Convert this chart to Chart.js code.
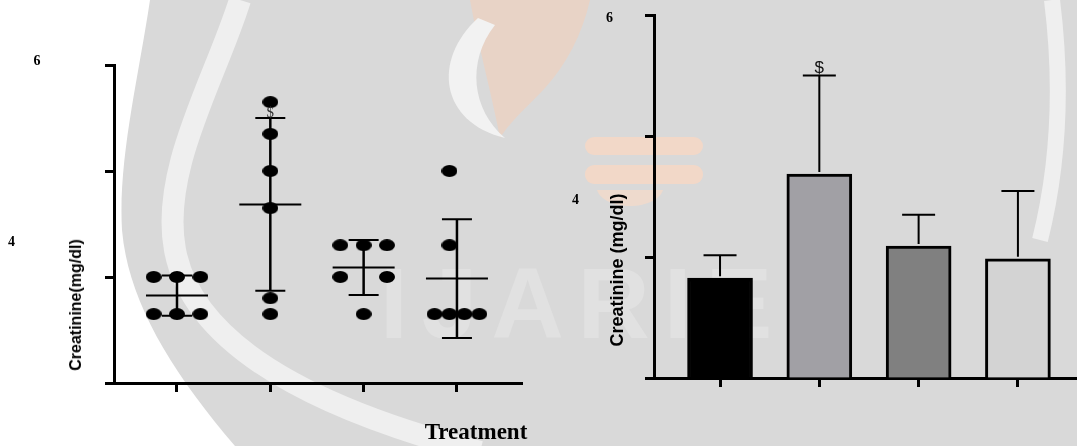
<!DOCTYPE html>
<html>
<head>
<meta charset="utf-8">
<script src="https://cdn.jsdelivr.net/npm/chart.js@4.4.1/dist/chart.umd.min.js"></script>
<style>
  html, body { margin: 0; padding: 0; }
  body { width: 1077px; height: 446px; position: relative; overflow: hidden; background: #d9d9d9; }
  #bg { position: absolute; left: 0; top: 0; }
  canvas { position: absolute; top: 0; }
  #scatterChart { left: 0; }
  #barChart { left: 540px; }
  .txt { position: absolute; white-space: nowrap; line-height: 1; transform: translate(-50%, -50%); color: #000; }
  .tick { font: bold 14px "Liberation Serif", "DejaVu Serif", serif; }
  .ytitle { font-family: "Liberation Sans", Arial, sans-serif; font-weight: bold; transform: translate(-50%, -50%) rotate(-90deg); }
  .xtitle { font: bold 23px "Liberation Serif", "DejaVu Serif", serif; }
  .mark-serif { font: 15px "Liberation Serif", serif; color: #333; }
  .mark-sans { font: 17px "Liberation Sans", Arial, sans-serif; color: #111; }
</style>
</head>
<body>
<svg id="bg" width="1077" height="446" viewBox="0 0 1077 446">
  <rect width="1077" height="446" fill="#d9d9d9"/>
  <!-- pale logo backdrop -->
  <path d="M0,0 L150,0 C138,80 118,160 122,230 C128,300 170,370 235,446 L0,446 Z" fill="#ffffff"/>
  <path d="M240,0 C215,80 160,170 175,250 C190,330 280,400 480,452" fill="none" stroke="#efefef" stroke-width="22"/>
  <path d="M1052,0 C1062,80 1060,160 1040,240" fill="none" stroke="#efefef" stroke-width="16"/>
  <path d="M470,0 L590,0 C582,35 566,65 545,88 C528,106 510,122 500,138 C492,95 478,45 470,0 Z" fill="#e8d3c6"/>
  <path d="M478,18 C432,60 440,122 505,138 C472,110 466,62 495,25 Z" fill="#f2f2f2"/>
  <rect x="585" y="137" width="118" height="18" rx="9" fill="#f2d8c8"/>
  <rect x="585" y="165" width="118" height="19" rx="9" fill="#f2d8c8"/>
  <path d="M597,190 L663,190 C660,200 645,206 630,206 C615,206 600,200 597,190 Z" fill="#eedacd"/>
  <text x="380" y="338" font-family="Liberation Sans, Arial, sans-serif" font-weight="bold" font-size="100" letter-spacing="14" fill="#e1e1e1">IJARIE</text>
</svg>

<canvas id="scatterChart" width="540" height="446"></canvas>
<canvas id="barChart" width="537" height="446"></canvas>

<div class="txt tick" style="left:37px; top:61px;" id="tickA"></div>
<div class="txt tick" style="left:11.5px; top:242px;" id="tickB"></div>
<div class="txt tick" style="left:609.5px; top:18px;" id="tickC"></div>
<div class="txt tick" style="left:575.5px; top:200px;" id="tickD"></div>
<div class="txt ytitle" style="left:76px; top:305px; font-size:16px;">Creatinine(mg/dl)</div>
<div class="txt ytitle" style="left:617px; top:270px; font-size:18px;">Creatinine (mg/dl)</div>
<div class="txt xtitle" style="left:476px; top:432px;">Treatment</div>

<script>
// Serum creatinine (mg/dl), six animals per treatment group
const groups = ['Group 1', 'Group 2', 'Group 3', 'Group 4'];
const creatinine = [
  [2.0, 2.0, 2.0, 1.3, 1.3, 1.3],
  [5.3, 4.7, 4.0, 3.3, 1.6, 1.3],
  [2.6, 2.6, 2.6, 2.0, 2.0, 1.3],
  [4.0, 2.6, 1.3, 1.3, 1.3, 1.3]
];
const groupMean = [1.65, 3.37, 2.18, 1.97];
const groupSD = [0.38, 1.63, 0.52, 1.12];
const yTicks = [0, 2, 4, 6];
const tickLabels = ['6', '4'];
const significance = ['', '$', '', ''];

// horizontal spread of tied dots inside each column (layout only)
const dotSpread = [
  [-0.25, 0, 0.25, -0.25, 0, 0.25],
  [0, 0, 0, 0, 0, 0],
  [-0.25, 0, 0.25, -0.25, 0.25, 0],
  [-0.08, -0.08, -0.24, -0.08, 0.08, 0.24]
];
const barFill = ['#000000', '#a1a0a5', '#808080', '#d3d3d3'];

document.getElementById('tickA').textContent = tickLabels[0];
document.getElementById('tickB').textContent = tickLabels[1];
document.getElementById('tickC').textContent = tickLabels[0];
document.getElementById('tickD').textContent = tickLabels[1];

function ellipseDot(w, h) {
  const c = document.createElement('canvas');
  c.width = w; c.height = h;
  const g = c.getContext('2d');
  g.fillStyle = '#000';
  g.beginPath();
  g.ellipse(w / 2, h / 2, w / 2, h / 2, 0, 0, Math.PI * 2);
  g.fill();
  return c;
}

function axisStyle(extra) {
  return Object.assign({
    type: 'linear',
    offset: false,
    ticks: { display: false },
    grid: { display: true, offset: false, drawOnChartArea: false, drawTicks: true, tickLength: 9, tickWidth: 3, tickColor: '#000' },
    border: { display: true, color: '#000', width: 3 }
  }, extra);
}

// places the significance marks above the SD cap of each group
function markPlugin(cls, lift, left) {
  return {
    id: 'marks' + cls,
    afterRender(chart) {
      const xs = chart.scales.x, ys = chart.scales.y;
      significance.forEach((m, i) => {
        if (!m) return;
        const id = 'mk-' + chart.canvas.id + i;
        let el = document.getElementById(id);
        if (!el) {
          el = document.createElement('div');
          el.id = id;
          el.className = 'txt ' + cls;
          el.textContent = m;
          document.body.appendChild(el);
        }
        el.style.left = (left + xs.getPixelForValue(i)) + 'px';
        el.style.top = (ys.getPixelForValue(groupMean[i] + groupSD[i]) - lift) + 'px';
      });
    }
  };
}

// mean line with +/- SD whiskers for the dot plot
const meanSdPlugin = {
  id: 'meanSd',
  afterDatasetsDraw(chart) {
    const { ctx } = chart;
    const xs = chart.scales.x, ys = chart.scales.y;
    ctx.save();
    ctx.strokeStyle = '#000';
    groups.forEach((g, i) => {
      const cx = xs.getPixelForValue(i);
      const ym = ys.getPixelForValue(groupMean[i]);
      const yt = ys.getPixelForValue(groupMean[i] + groupSD[i]);
      const yb = ys.getPixelForValue(groupMean[i] - groupSD[i]);
      ctx.lineWidth = 2;
      ctx.beginPath();
      ctx.moveTo(cx - 31, ym); ctx.lineTo(cx + 31, ym);
      ctx.moveTo(cx - 15, yt); ctx.lineTo(cx + 15, yt);
      ctx.moveTo(cx - 15, yb); ctx.lineTo(cx + 15, yb);
      ctx.stroke();
      ctx.lineWidth = 2.5;
      ctx.beginPath();
      ctx.moveTo(cx, yt); ctx.lineTo(cx, yb);
      ctx.stroke();
    });
    ctx.restore();
  }
};

// upward SD whiskers for the bar chart
const upperSdPlugin = {
  id: 'upperSd',
  afterDatasetsDraw(chart) {
    const { ctx } = chart;
    const xs = chart.scales.x, ys = chart.scales.y;
    ctx.save();
    ctx.strokeStyle = '#000';
    ctx.lineWidth = 2;
    groups.forEach((g, i) => {
      const cx = xs.getPixelForValue(i);
      const ym = ys.getPixelForValue(groupMean[i]);
      const yt = ys.getPixelForValue(groupMean[i] + groupSD[i]);
      ctx.beginPath();
      ctx.moveTo(cx, ym - 2); ctx.lineTo(cx, yt);
      ctx.moveTo(cx - 16.5, yt); ctx.lineTo(cx + 16.5, yt);
      ctx.stroke();
    });
    ctx.restore();
  }
};

const dotPoints = [];
creatinine.forEach((vals, i) => vals.forEach((v, j) => dotPoints.push({ x: i + dotSpread[i][j], y: v })));
const groupTicks = s => { s.ticks = groups.map((g, i) => ({ value: i })); };
const valueTicks = s => { s.ticks = yTicks.map(v => ({ value: v })); };

new Chart(document.getElementById('scatterChart'), {
  type: 'scatter',
  data: {
    datasets: [{
      label: 'Creatinine',
      data: dotPoints,
      pointStyle: ellipseDot(16, 12),
      pointRadius: 7,
      backgroundColor: '#000',
      borderWidth: 0
    }]
  },
  options: {
    responsive: false,
    animation: false,
    events: [],
    layout: { padding: { left: 102, top: 65, right: 18, bottom: 51 } },
    plugins: { legend: { display: false }, tooltip: { enabled: false } },
    scales: {
      x: axisStyle({ min: -0.675, max: 3.697, afterBuildTicks: groupTicks, afterFit: s => { s.height = 12; } }),
      y: axisStyle({ min: 0, max: 6, afterBuildTicks: valueTicks, afterFit: s => { s.width = 12; } })
    }
  },
  plugins: [meanSdPlugin, markPlugin('mark-serif', 6, 0)]
});

new Chart(document.getElementById('barChart'), {
  type: 'bar',
  data: {
    datasets: [{
      label: 'Creatinine',
      data: groupMean.map((m, i) => ({ x: i, y: m })),
      backgroundColor: barFill,
      borderColor: '#000',
      borderWidth: 3,
      borderSkipped: 'bottom',
      barThickness: 65
    }]
  },
  options: {
    responsive: false,
    animation: false,
    events: [],
    layout: { padding: { left: 102, top: 15, right: 0, bottom: 56 } },
    plugins: { legend: { display: false }, tooltip: { enabled: false } },
    scales: {
      x: axisStyle({ min: -0.665, max: 3.595, afterBuildTicks: groupTicks, afterFit: s => { s.height = 12; } }),
      y: axisStyle({ min: 0, max: 6, afterBuildTicks: valueTicks, afterFit: s => { s.width = 12; } })
    }
  },
  plugins: [upperSdPlugin, markPlugin('mark-sans', 8, 540)]
});
</script>
</body>
</html>
